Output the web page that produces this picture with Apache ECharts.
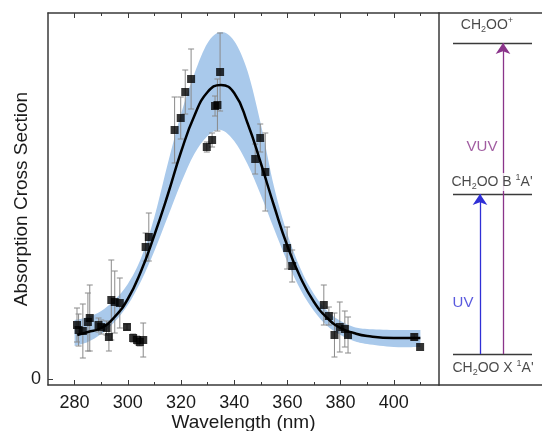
<!DOCTYPE html>
<html>
<head>
<meta charset="utf-8">
<script src="https://cdn.jsdelivr.net/npm/echarts@6/dist/echarts.min.js"></script>
<style>
html, body { margin: 0; padding: 0; background: #fff; }
#chart { width: 542px; height: 431px; }
</style>
</head>
<body>
<div id="chart"></div>
<script>
// measured points (wavelength nm, cross section arb. units, error half-width)
var ptX = [280.9, 281.5, 283.1, 285.0, 285.7, 289.0, 290.0, 292.0, 292.9, 293.8, 295.1, 297.0, 299.7,
  302.0, 303.5, 304.5, 305.8, 306.7, 307.9, 317.6, 319.9, 321.6, 323.8, 329.7, 331.7, 332.8, 333.7,
  334.7, 347.9, 349.8, 351.7, 359.9, 361.8, 373.7, 375.6, 377.7, 379.7, 381.6, 382.8, 407.7, 409.9]
var ptY = [0.54, 0.49, 0.48, 0.57, 0.61, 0.54, 0.52, 0.51, 0.42, 0.79, 0.77, 0.76, 0.52,
  0.41, 0.39, 0.37, 0.39, 1.32, 1.42, 2.49, 2.61, 2.87, 3.00, 2.32, 2.39, 2.73, 2.74,
  3.07, 2.20, 2.41, 2.07, 1.31, 1.13, 0.74, 0.63, 0.44, 0.52, 0.50, 0.44, 0.42, 0.32]
var ptErr = [0.17, 0.16, 0.27, 0.29, 0.33, 0.07, 0.07, 0.07, 0.14, 0.40, 0.31, 0.25, 0.03,
  0.04, 0.04, 0.04, 0.17, 0.14, 0.24, 0.33, 0.21, 0.22, 0.30, 0.05, 0.07, 0.10, 0.26,
  0.39, 0.15, 0.14, 0.39, 0.21, 0.16, 0.20, 0.09, 0.22, 0.25, 0.18, 0.18, 0.03, 0]

// gaussian fit and its confidence band
var fitX = [281, 285, 290, 295, 300, 305, 310, 315, 320, 325, 330, 335, 340, 345, 350, 355, 360, 365, 370, 375, 380, 385, 390, 400, 410]
var fitY = [0.44, 0.47, 0.51, 0.62, 0.80, 1.08, 1.44, 1.84, 2.27, 2.63, 2.87, 2.94, 2.86, 2.56, 2.16, 1.73, 1.33, 1.01, 0.77, 0.61, 0.51, 0.46, 0.43, 0.41, 0.41]
var bandX = [280, 285, 290, 295, 300, 305, 310, 315, 320, 325, 330, 335, 340, 345, 350, 355, 360, 365, 370, 375, 380, 385, 390, 400, 410]
var bandUpper = [0.59, 0.62, 0.68, 0.79, 0.95, 1.21, 1.62, 2.15, 2.65, 3.05, 3.36, 3.47, 3.38, 3.08, 2.55, 1.92, 1.45, 1.10, 0.85, 0.68, 0.58, 0.52, 0.50, 0.49, 0.49]
var bandLower = [0.33, 0.37, 0.45, 0.57, 0.74, 0.98, 1.28, 1.62, 1.96, 2.25, 2.43, 2.49, 2.38, 2.15, 1.84, 1.50, 1.17, 0.89, 0.68, 0.53, 0.44, 0.38, 0.35, 0.32, 0.32]

var majorTicks = [280, 300, 320, 340, 360, 380, 400]
var minorTicks = [290, 310, 330, 350, 370, 390, 410]

// energy level scheme (right panel)
var levelY = [0.25, 1.85, 3.36]
var levelSpan = [14, 93]
var levelLabels = [
  { x: 54, y: 0.11, text: '{a|CH}{s|2}{a|OO X }{p|1}{a|A\'}' },
  { x: 53, y: 1.97, text: '{a|CH}{s|2}{a|OO B }{p|1}{a|A\'}' },
  { x: 48, y: 3.54, text: '{a|CH}{s|2}{a|OO}{p|+}' }
]
var arrows = [
  { name: 'UV', x: 41, from: 0, to: 1, color: '#2f2fd6', labelX: 24, labelY: 0.76 },
  { name: 'VUV', x: 64, from: 0, to: 2, color: '#8a348a', labelX: 43, labelY: 2.32 }
]

var FONT = 'Liberation Sans, Arial, sans-serif'
var FRAME = '#3a3a3a'

function zip(xs, ys) {
  return xs.map(function (x, i) { return [x, ys[i]] })
}

// cubic segments through pixel points (same idea as smooth: true)
function curveSegments(pts) {
  var d = ''
  for (var i = 0; i < pts.length - 1; i++) {
    var p0 = pts[Math.max(i - 1, 0)], p1 = pts[i], p2 = pts[i + 1], p3 = pts[Math.min(i + 2, pts.length - 1)]
    d += ' C' + (p1[0] + (p2[0] - p0[0]) / 6) + ' ' + (p1[1] + (p2[1] - p0[1]) / 6) +
      ' ' + (p2[0] - (p3[0] - p1[0]) / 6) + ' ' + (p2[1] - (p3[1] - p1[1]) / 6) +
      ' ' + p2[0] + ' ' + p2[1]
  }
  return d
}

function renderBand(params, api) {
  var up = bandX.map(function (x, i) { return api.coord([x, bandUpper[i]]) })
  var lo = bandX.map(function (x, i) { return api.coord([x, bandLower[i]]) }).reverse()
  var d = 'M' + up[0][0] + ' ' + up[0][1] + curveSegments(up) +
    ' L' + lo[0][0] + ' ' + lo[0][1] + curveSegments(lo) + ' Z'
  return { type: 'path', shape: { pathData: d }, style: { fill: '#a9c9eb' } }
}

function renderErrorBar(params, api) {
  var x = api.value(0), y = api.value(1), e = api.value(2)
  if (!e) return null
  var top = api.coord([x, y + e])
  var bot = api.coord([x, y - e])
  var cap = 3
  var style = { stroke: '#8a8a8a', lineWidth: 1 }
  return {
    type: 'group',
    children: [
      { type: 'line', shape: { x1: top[0], y1: top[1], x2: bot[0], y2: bot[1] }, style: style },
      { type: 'line', shape: { x1: top[0] - cap, y1: top[1], x2: top[0] + cap, y2: top[1] }, style: style },
      { type: 'line', shape: { x1: bot[0] - cap, y1: bot[1], x2: bot[0] + cap, y2: bot[1] }, style: style }
    ]
  }
}

var chart = echarts.init(document.getElementById('chart'))

var xBase = { type: 'value', gridIndex: 0, min: 270, max: 417, splitLine: { show: false } }
var hidden = { show: false }
var frameLine = { show: true, onZero: false, lineStyle: { color: FRAME, width: 1.5 } }
var noLine = { show: false, onZero: false }

chart.setOption({
  animation: false,
  textStyle: { fontFamily: FONT },
  grid: [
    { left: 48, top: 13, width: 391, height: 372, outerBoundsMode: 'none', containLabel: false },
    { left: 439, top: 13, width: 106, height: 372, outerBoundsMode: 'none', containLabel: false }
  ],
  xAxis: [
    Object.assign({}, xBase, {
      position: 'bottom',
      axisLine: frameLine,
      axisTick: { inside: true, length: 5, customValues: majorTicks, lineStyle: { color: FRAME } },
      axisLabel: { customValues: majorTicks, fontSize: 18, color: '#1a1a1a', margin: 9, fontFamily: FONT },
      name: 'Wavelength (nm)',
      nameLocation: 'middle',
      nameGap: 28,
      nameMoveOverlap: false,
      nameTextStyle: { fontSize: 19, color: '#1a1a1a', fontFamily: FONT }
    }),
    Object.assign({}, xBase, {
      position: 'bottom',
      axisLine: noLine,
      axisTick: { inside: true, length: 3, customValues: minorTicks, lineStyle: { color: FRAME } },
      axisLabel: hidden
    }),
    Object.assign({}, xBase, {
      position: 'top',
      axisLine: frameLine,
      axisTick: { inside: true, length: 5, customValues: majorTicks, lineStyle: { color: FRAME } },
      axisLabel: hidden
    }),
    Object.assign({}, xBase, {
      position: 'top',
      axisLine: noLine,
      axisTick: { inside: true, length: 3, customValues: minorTicks, lineStyle: { color: FRAME } },
      axisLabel: hidden
    }),
    {
      type: 'value', gridIndex: 1, min: 0, max: 106, position: 'bottom',
      axisLine: frameLine, axisTick: hidden, axisLabel: hidden, splitLine: hidden
    },
    {
      type: 'value', gridIndex: 1, min: 0, max: 106, position: 'top',
      axisLine: frameLine, axisTick: hidden, axisLabel: hidden, splitLine: hidden
    }
  ],
  yAxis: [
    {
      type: 'value', gridIndex: 0, min: -0.06, max: 3.66, position: 'left',
      axisLine: frameLine,
      axisTick: { show: true, inside: true, length: 5, customValues: [0], lineStyle: { color: FRAME } },
      axisLabel: { customValues: [0], fontSize: 18, color: '#1a1a1a', margin: 7, fontFamily: FONT },
      splitLine: hidden,
      name: 'Absorption Cross Section',
      nameLocation: 'middle',
      nameGap: 17,
      nameMoveOverlap: false,
      nameTextStyle: { fontSize: 19, color: '#1a1a1a', fontFamily: FONT }
    },
    {
      type: 'value', gridIndex: 0, min: -0.06, max: 3.66, position: 'right',
      axisLine: frameLine, axisTick: hidden, axisLabel: hidden, splitLine: hidden
    },
    {
      type: 'value', gridIndex: 1, min: -0.06, max: 3.66,
      axisLine: noLine, axisTick: hidden, axisLabel: hidden, splitLine: hidden
    }
  ],
  series: [
    {
      type: 'custom', name: 'band', renderItem: renderBand,
      data: [[bandX[0], bandLower[0]]], encode: { x: 0, y: 1 }, z: 1, silent: true
    },
    {
      type: 'custom', name: 'error', renderItem: renderErrorBar,
      data: ptX.map(function (x, i) { return [x, ptY[i], ptErr[i]] }),
      encode: { x: 0, y: 1 }, z: 3
    },
    {
      type: 'line', name: 'fit', data: zip(fitX, fitY), smooth: true, symbol: 'none',
      lineStyle: { color: '#000', width: 2.5 }, z: 4
    },
    {
      type: 'scatter', name: 'data', data: zip(ptX, ptY), symbol: 'rect', symbolSize: 8,
      itemStyle: { color: '#000' }, z: 5
    },
    // energy levels
    {
      type: 'lines', coordinateSystem: 'cartesian2d', xAxisIndex: 4, yAxisIndex: 2,
      symbol: 'none', lineStyle: { color: '#3a3a3a', width: 1.3, opacity: 1 },
      data: levelY.map(function (y) { return { coords: [[levelSpan[0], y], [levelSpan[1], y]] } }),
      z: 2
    },
    {
      type: 'lines', coordinateSystem: 'cartesian2d', xAxisIndex: 4, yAxisIndex: 2,
      symbol: ['none', 'arrow'], symbolSize: [8, 11],
      lineStyle: { width: 1.3, opacity: 1 },
      data: arrows.map(function (a) {
        return { coords: [[a.x, levelY[a.from]], [a.x, levelY[a.to]]], lineStyle: { color: a.color } }
      }),
      z: 3
    },
    {
      type: 'scatter', xAxisIndex: 4, yAxisIndex: 2, symbolSize: 0, z: 6,
      data: levelLabels.map(function (l) { return { value: [l.x, l.y], name: l.text } }),
      label: {
        show: true, position: 'inside', formatter: '{b}',
        backgroundColor: '#fff', padding: [0, 1],
        rich: {
          a: { fontSize: 14, color: '#1a1a1a', lineHeight: 18, fontFamily: FONT },
          s: { fontSize: 9, color: '#1a1a1a', lineHeight: 18, verticalAlign: 'bottom', padding: [6, 0, 0, 0], fontFamily: FONT },
          p: { fontSize: 9, color: '#1a1a1a', lineHeight: 18, verticalAlign: 'top', padding: [0, 0, 6, 0], fontFamily: FONT }
        }
      }
    },
    {
      type: 'scatter', xAxisIndex: 4, yAxisIndex: 2, symbolSize: 0, z: 6,
      data: arrows.map(function (a) { return { value: [a.labelX, a.labelY], name: a.name, itemStyle: { color: a.color } } }),
      label: {
        show: true, position: 'inside', formatter: '{b}', fontSize: 15, fontFamily: FONT,
        color: 'inherit'
      }
    }
  ]
})
</script>
</body>
</html>
